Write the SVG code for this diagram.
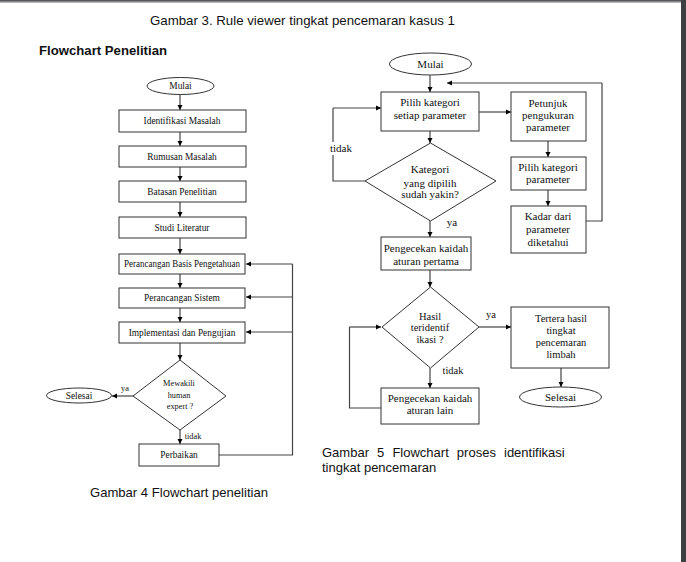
<svg xmlns="http://www.w3.org/2000/svg" width="686" height="562" viewBox="0 0 686 562">
<defs>
<marker id="ah" markerWidth="6" markerHeight="6" refX="5" refY="3" orient="auto" markerUnits="userSpaceOnUse">
<path d="M0,0.5 L5,3 L0,5.5 Z" fill="#000"/>
</marker>
<linearGradient id="topbar" x1="0" y1="0" x2="0" y2="1">
<stop offset="0" stop-color="#3c4043"/><stop offset="1" stop-color="#cfcfcf"/>
</linearGradient>
</defs>
<style>
.bx{fill:#fff;stroke:#333;stroke-width:1}
.ln{fill:none;stroke:#444;stroke-width:1.2}
.ar{fill:none;stroke:#444;stroke-width:1.2;marker-end:url(#ah)}
.t9{font-family:"Liberation Serif",serif;font-size:9.4px;fill:#111;text-anchor:middle}
.t8{font-family:"Liberation Serif",serif;font-size:8.3px;fill:#111;text-anchor:middle}
.t11{font-family:"Liberation Serif",serif;font-size:11px;fill:#111;text-anchor:middle}
.t10{font-family:"Liberation Serif",serif;font-size:10.5px;fill:#111;text-anchor:middle}
.cap{font-family:"Liberation Sans",Arial,sans-serif;font-size:13px;fill:#111}
</style>
<rect width="686" height="562" fill="#fff"/>
<rect x="0" y="0" width="686" height="3" fill="url(#topbar)"/>
<rect x="681" y="0" width="5" height="562" fill="#3c4043"/>

<text class="cap" x="150" y="25" font-size="14" textLength="305" lengthAdjust="spacingAndGlyphs">Gambar 3. Rule viewer tingkat pencemaran kasus 1</text>
<text class="cap" x="39" y="55" font-weight="bold" textLength="128" lengthAdjust="spacingAndGlyphs">Flowchart Penelitian</text>

<g id="connectors">
<!-- left -->
<line class="ar" x1="180" y1="94" x2="180" y2="110"/>
<line class="ar" x1="180" y1="132" x2="180" y2="146"/>
<line class="ar" x1="180" y1="167" x2="180" y2="181"/>
<line class="ar" x1="180" y1="202" x2="180" y2="217"/>
<line class="ar" x1="180" y1="238" x2="180" y2="254"/>
<line class="ar" x1="180" y1="274" x2="180" y2="288"/>
<line class="ar" x1="180" y1="308" x2="180" y2="322"/>
<line class="ar" x1="180" y1="343" x2="180" y2="360"/>
<line class="ar" x1="133" y1="396" x2="112" y2="396"/>
<line class="ar" x1="180" y1="430" x2="180" y2="444"/>
<polyline class="ln" points="219,455 292.5,455 292.5,264"/>
<line class="ar" x1="292.5" y1="264" x2="246" y2="264"/>
<line class="ar" x1="292.5" y1="297" x2="246" y2="297"/>
<line class="ar" x1="292.5" y1="332" x2="246" y2="332"/>
<!-- right -->
<line class="ar" x1="430" y1="75" x2="430" y2="92"/>
<polyline class="ln" points="586,221 602,221 602,83"/>
<line class="ar" x1="602" y1="83" x2="447" y2="83"/>
<line class="ar" x1="479" y1="112" x2="511" y2="112"/>
<line class="ar" x1="548" y1="141" x2="548" y2="157"/>
<line class="ar" x1="548" y1="190" x2="548" y2="206"/>
<line class="ar" x1="430" y1="131" x2="430" y2="143"/>
<polyline class="ln" points="365,181 333,181 333,108"/>
<line class="ar" x1="333" y1="108" x2="381" y2="108"/>
<line class="ar" x1="430" y1="221" x2="430" y2="237"/>
<line class="ar" x1="430" y1="270" x2="430" y2="287"/>
<line class="ar" x1="479" y1="327" x2="511" y2="327"/>
<line class="ar" x1="561" y1="368" x2="561" y2="387"/>
<line class="ar" x1="430" y1="368" x2="430" y2="388"/>
<polyline class="ln" points="381,408 349.5,408 349.5,327"/>
<line class="ar" x1="349.5" y1="327" x2="381" y2="327"/>
</g>

<g id="l-mulai"><ellipse class="bx" cx="180.5" cy="86" rx="33.5" ry="8.5"/><text class="t9" x="180.5" y="89">Mulai</text></g>
<g id="l-identifikasi"><rect class="bx" x="119" y="110" width="127" height="22"/><text class="t9" x="182" y="124">Identifikasi Masalah</text></g>
<g id="l-rumusan"><rect class="bx" x="119" y="146" width="127" height="21"/><text class="t9" x="182" y="159.5">Rumusan Masalah</text></g>
<g id="l-batasan"><rect class="bx" x="119" y="181" width="127" height="21"/><text class="t9" x="182" y="194.5">Batasan Penelitian</text></g>
<g id="l-studi"><rect class="bx" x="119" y="217" width="127" height="21"/><text class="t9" x="182" y="230.5">Studi Literatur</text></g>
<g id="l-basis"><rect class="bx" x="119" y="254" width="126" height="20"/><text class="t9" x="182" y="267" textLength="116" lengthAdjust="spacingAndGlyphs">Perancangan Basis Pengetahuan</text></g>
<g id="l-sistem"><rect class="bx" x="119" y="288" width="126" height="20"/><text class="t9" x="182" y="301">Perancangan Sistem</text></g>
<g id="l-implementasi"><rect class="bx" x="119" y="322" width="126" height="21"/><text class="t9" x="182" y="335.5">Implementasi dan Pengujian</text></g>
<g id="l-mewakili"><polygon class="bx" points="180,360 226,396 180,430 133,396"/>
<text class="t8" x="179" y="386">Mewakili</text><text class="t8" x="179" y="397.5">human</text><text class="t8" x="180" y="409">expert ?</text></g>
<g id="l-selesai"><ellipse class="bx" cx="79" cy="395.5" rx="32.5" ry="7.5"/><text class="t9" x="79" y="398.5">Selesai</text></g>
<text class="t8" x="125" y="391">ya</text>
<text class="t8" x="193" y="439">tidak</text>
<g id="l-perbaikan"><rect class="bx" x="139" y="444" width="80" height="22"/><text class="t9" x="179" y="458">Perbaikan</text></g>
<text class="cap" x="90" y="497" textLength="178" lengthAdjust="spacingAndGlyphs">Gambar 4 Flowchart penelitian</text>

<g id="r-mulai"><ellipse class="bx" cx="430.5" cy="64" rx="41" ry="11"/><text class="t11" x="430.5" y="68">Mulai</text></g>
<g id="r-pilih"><rect class="bx" x="381" y="92" width="98" height="39"/><text class="t11" x="430" y="106">Pilih kategori</text><text class="t11" x="430" y="118.5">setiap parameter</text></g>
<g id="r-petunjuk"><rect class="bx" x="511" y="92" width="75" height="49"/><text class="t11" x="548" y="107">Petunjuk</text><text class="t11" x="548" y="119">pengukuran</text><text class="t11" x="548" y="131">parameter</text></g>
<g id="r-pilihparam"><rect class="bx" x="511" y="157" width="75" height="33"/><text class="t11" x="548" y="171">Pilih kategori</text><text class="t11" x="548" y="183">parameter</text></g>
<g id="r-kadar"><rect class="bx" x="511" y="206" width="75" height="47"/><text class="t11" x="548" y="220">Kadar dari</text><text class="t11" x="548" y="233">parameter</text><text class="t11" x="548" y="245.5">diketahui</text></g>
<g id="r-kategori"><polygon class="bx" points="430.5,143 496,181 430.5,221 365,181"/>
<text class="t11" x="430" y="173">Kategori</text><text class="t11" x="430" y="186.5">yang dipilih</text><text class="t11" x="430" y="198">sudah yakin?</text></g>
<rect x="329" y="142" width="24" height="13" fill="#fff"/>
<text class="t11" x="341" y="152">tidak</text>
<text class="t11" x="452" y="226">ya</text>
<g id="r-pertama"><rect class="bx" x="381" y="237" width="90" height="33"/><text class="t11" x="426" y="252">Pengecekan kaidah</text><text class="t11" x="426" y="265">aturan pertama</text></g>
<g id="r-hasil"><polygon class="bx" points="430.5,287 479,327 430.5,368 382,327"/>
<text class="t10" x="430" y="320">Hasil</text><text class="t10" x="430" y="331">teridentif</text><text class="t10" x="430" y="343">ikasi ?</text></g>
<text class="t10" x="491" y="318">ya</text>
<text class="t10" x="453" y="374">tidak</text>
<g id="r-tertera"><rect class="bx" x="511" y="307" width="98" height="61"/><text class="t10" x="561" y="322">Tertera hasil</text><text class="t10" x="561" y="334">tingkat</text><text class="t10" x="561" y="346">pencemaran</text><text class="t10" x="561" y="358">limbah</text></g>
<g id="r-selesai"><ellipse class="bx" cx="560.5" cy="397" rx="41" ry="10"/><text class="t11" x="560.5" y="401">Selesai</text></g>
<g id="r-lain"><rect class="bx" x="381" y="388" width="98" height="36"/><text class="t11" x="430" y="402">Pengecekan kaidah</text><text class="t11" x="430" y="414">aturan lain</text></g>
<text class="cap" x="322" y="457" word-spacing="4.5">Gambar 5 Flowchart proses identifikasi</text>
<text class="cap" x="322" y="472">tingkat pencemaran</text>
</svg>
